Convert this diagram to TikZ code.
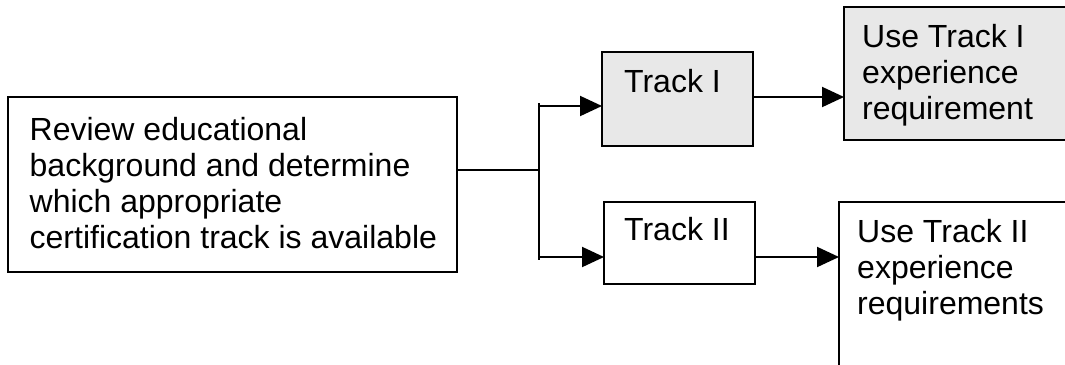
\documentclass[tikz,border=0pt]{standalone}
\usepackage{fontspec}
\setmainfont{Liberation Sans}
\usetikzlibrary{arrows.meta}
\definecolor{boxgrey}{RGB}{232,232,232}
\begin{document}
\begin{tikzpicture}[x=1pt,y=-1pt,
  box/.style={draw=black, line width=2pt, inner sep=0pt, outer sep=0pt},
  greybox/.style={box, fill=boxgrey},
  txt/.style={anchor=north west, inner sep=0pt, align=left, font=\fontsize{32}{36}\selectfont},
  conn/.style={line width=2pt},
  arr/.style={line width=2pt, -{Triangle[length=22pt,width=20pt]}}]
\useasboundingbox (0,0) rectangle (1065,364);
\clip (0,0) rectangle (1065,364);
% boxes
\node[box, minimum width=449pt, minimum height=175pt] (review) at (232.5,184.5) {};
\node[greybox, minimum width=151pt, minimum height=94pt] (trackI) at (677.5,99) {};
\node[box, minimum width=151pt, minimum height=82pt] (trackII) at (679.5,243) {};
\node[greybox, minimum width=236pt, minimum height=133pt] (useI) at (962,73.5) {};
\node[box, minimum width=241pt, minimum height=198pt] (useII) at (959.5,301) {};
% texts
\node[txt] (treview) at (29.5,114.8) {\strut Review educational\\\strut background and determine\\\strut which appropriate\\\strut certification track is available};
\node[txt] (ttrackI) at (624,66.8) {\strut Track I};
\node[txt] (ttrackII) at (624,214.8) {\strut Track II};
\node[txt] (tuseI) at (862,21.8) {\strut Use Track I\\\strut experience\\\strut requirement};
\node[txt] (tuseII) at (857,216.8) {\strut Use Track II\\\strut experience\\\strut requirements};
% connectors
\coordinate (split) at (539,170);
\coordinate (jtop) at (539,103);
\coordinate (jbot) at (539,260);
\coordinate (a1) at (539,106);
\coordinate (a2) at (539,257);
\coordinate (b1) at (0,97);
\coordinate (b2) at (0,257);
\draw[conn] (split -| review.east) -- (split);
\draw[conn] (jtop) -- (jbot);
\draw[arr] (a1) -- (a1 -| trackI.west);
\draw[arr] (a2) -- (a2 -| trackII.west);
\draw[arr] (b1 -| trackI.east) -- (b1 -| useI.west);
\draw[arr] (b2 -| trackII.east) -- (b2 -| useII.west);
\end{tikzpicture}
\end{document}
